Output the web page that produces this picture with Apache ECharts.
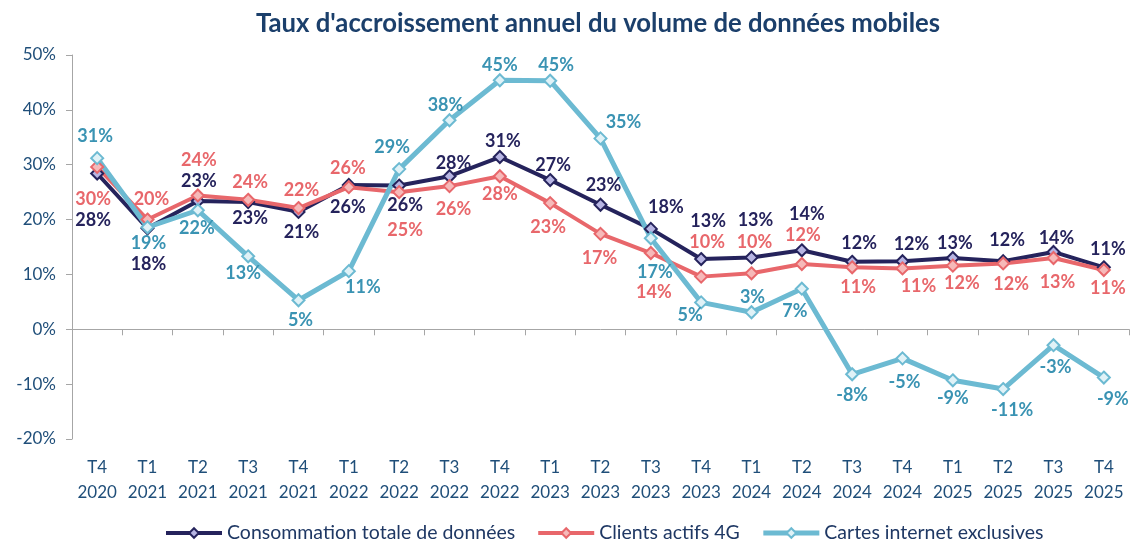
<!DOCTYPE html>
<html>
<head>
<meta charset="utf-8">
<script src="https://cdn.jsdelivr.net/npm/echarts@6/dist/echarts.min.js"></script>
<style>
  html, body { margin: 0; padding: 0; background: #ffffff; }
  #chart { width: 1133px; height: 551px; }
</style>
</head>
<body>
<div id="chart"></div>
<script>
// Quarters on the horizontal axis
const quarters = [
  'T4\n2020', 'T1\n2021', 'T2\n2021', 'T3\n2021', 'T4\n2021',
  'T1\n2022', 'T2\n2022', 'T3\n2022', 'T4\n2022',
  'T1\n2023', 'T2\n2023', 'T3\n2023', 'T4\n2023',
  'T1\n2024', 'T2\n2024', 'T3\n2024', 'T4\n2024',
  'T1\n2025', 'T2\n2025', 'T3\n2025', 'T4\n2025'
];

// Annual growth rates, in percent
const consommationTotale = [28.4, 18.4, 23.4, 23.2, 21.4, 26.3, 26.2, 27.9, 31.4, 27.2, 22.7, 18.3, 12.8, 13.1, 14.4, 12.3, 12.4, 13.0, 12.4, 14.1, 11.3];
const clientsActifs4G   = [29.6, 20.0, 24.4, 23.6, 22.1, 25.9, 25.0, 26.1, 27.9, 23.0, 17.4, 13.9, 9.6, 10.2, 11.9, 11.3, 11.1, 11.6, 12.0, 13.0, 10.8];
const cartesInternet    = [31.2, 18.6, 21.7, 13.3, 5.3, 10.6, 29.2, 38.1, 45.4, 45.3, 34.8, 16.6, 4.9, 3.1, 7.4, -8.2, -5.3, -9.3, -10.9, -2.9, -8.8];

const seriesNames = ['Consommation totale de données', 'Clients actifs 4G', 'Cartes internet exclusives'];

// Value-axis range and step
const yMin = -20, yMax = 50, yStep = 10;

// Label placement (pixel offset of each value label from its point)
const offsetsConso = [[-4,47],[1,36],[1,-20],[2,16],[3,20],[-1,22],[6,20],[4,-13],[3,-16],[3,-15],[3,-20],[15,-22],[7,-38],[4,-37],[5,-36],[7,-19],[9,-17],[2,-15],[4,-21],[3,-14],[4,-18]];
const offsets4G    = [[-4,32],[4,-20],[1,-35],[2,-18],[3,-18],[-1,-19],[6,38],[4,23],[0,18],[-2,24],[-1,24],[3,39],[6,-34],[3,-31],[1,-29],[6,20],[16,18],[9,18],[8,21],[4,24],[4,18]];
const offsetsCartes= [[-2,-22],[1,16],[-1,18],[-5,17],[2,20],[14,16],[-7,-22],[-4,-15],[0,-15],[6,-16],[23,-16],[4,34],[-11,13],[1,-15],[-7,22],[0,21],[2,24],[0,18],[9,21],[2,22],[9,22]];

const FONT = 'Lato, "Open Sans", sans-serif';
const AXIS_TEXT = '#1f4e79';

function buildSeries(name, values, offsets, lineColor, fillColor, labelColor, width) {
  return {
    name: name,
    type: 'line',
    xAxisIndex: 0,
    data: values.map((v, i) => ({ value: v, label: { offset: offsets[i] } })),
    symbol: 'diamond',
    symbolSize: 12,
    showAllSymbol: true,
    lineStyle: { color: lineColor, width: width },
    itemStyle: { color: fillColor, borderColor: lineColor, borderWidth: 2 },
    label: {
      show: true,
      position: 'inside',
      formatter: p => Math.round(p.value) + '%',
      color: labelColor,
      fontFamily: FONT,
      fontWeight: 'bold',
      fontSize: 18
    },
    emphasis: { disabled: true },
    animation: false
  };
}

const chart = echarts.init(document.getElementById('chart'), null, { renderer: 'canvas' });

chart.setOption({
  backgroundColor: '#ffffff',
  animation: false,
  title: {
    text: "Taux d'accroissement annuel du volume de données mobiles",
    left: 593,
    textAlign: 'center',
    top: 6,
    textStyle: { fontFamily: FONT, fontWeight: 'bold', fontSize: 25.7, color: '#1b3f6b' }
  },
  legend: {
    bottom: 3,
    left: 159,
    itemWidth: 56,
    itemHeight: 12,
    itemGap: 21,
    lineStyle: { width: 'inherit' },
    textStyle: { fontFamily: FONT, fontSize: 19.5, color: '#1f3864' },
    data: seriesNames
  },
  grid: { left: 72, right: 4, top: 55, bottom: 112, containLabel: false },
  xAxis: [
    {
      type: 'category',
      data: quarters,
      position: 'bottom',
      boundaryGap: true,
      axisLine: { show: false, onZero: false },
      axisTick: { show: false },
      axisLabel: {
        margin: 16,
        lineHeight: 25,
        fontFamily: FONT,
        fontSize: 17,
        color: AXIS_TEXT,
        interval: 0
      }
    },
    {
      type: 'category',
      data: quarters,
      position: 'bottom',
      boundaryGap: true,
      axisLine: { show: true, onZero: true, lineStyle: { color: '#a6a6a6', width: 1 } },
      axisTick: { show: true, length: 6, interval: 0, lineStyle: { color: '#a6a6a6' } },
      axisLabel: { show: false }
    }
  ],
  yAxis: {
    type: 'value',
    min: yMin,
    max: yMax,
    interval: yStep,
    axisLine: { show: true, lineStyle: { color: '#a6a6a6', width: 1 } },
    axisTick: { show: true, length: 6, lineStyle: { color: '#a6a6a6' } },
    splitLine: { show: false },
    axisLabel: {
      formatter: '{value}%',
      margin: 16,
      fontFamily: FONT,
      fontSize: 17,
      color: AXIS_TEXT
    }
  },
  series: [
    buildSeries(seriesNames[0], consommationTotale, offsetsConso, '#25235c', '#b7b5e3', '#25235c', 4),
    buildSeries(seriesNames[1], clientsActifs4G, offsets4G, '#e8676b', '#f6b9b9', '#e8676b', 4),
    buildSeries(seriesNames[2], cartesInternet, offsetsCartes, '#6cbad2', '#e0f2f7', '#3a93b3', 5)
  ]
});
</script>
</body>
</html>
